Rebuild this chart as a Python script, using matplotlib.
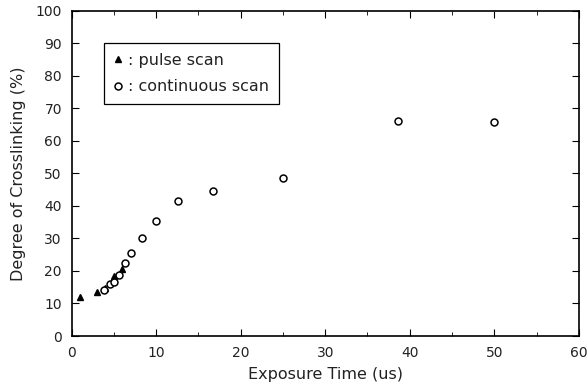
import matplotlib
matplotlib.use("Agg")
import matplotlib.pyplot as plt
from matplotlib.ticker import MultipleLocator

pulse_x = [1.0, 3.0, 4.0, 5.0, 6.0]
pulse_y = [12.1, 13.5, 14.7, 18.6, 20.6]
cont_x = [3.85, 4.5, 5.0, 5.6, 6.35, 7.05, 8.3, 10.0, 12.6, 16.7, 25.0, 38.6, 50.0]
cont_y = [14.2, 16.0, 16.5, 18.8, 22.4, 25.5, 30.0, 35.3, 41.6, 44.5, 48.6, 66.0, 65.8]

x_ticks = [0, 10, 20, 30, 40, 50, 60]
y_ticks = [0, 10, 20, 30, 40, 50, 60, 70, 80, 90, 100]

fig = plt.figure(figsize=(5.87, 3.88), dpi=100)
ax = fig.add_axes([0.122, 0.134, 0.864, 0.838])

ax.plot(pulse_x, pulse_y, linestyle="none", marker="^", color="black",
        markersize=4.5, label=": pulse scan")
ax.plot(cont_x, cont_y, linestyle="none", marker="o", markerfacecolor="white",
        markeredgecolor="black", markeredgewidth=1.1, markersize=5, label=": continuous scan")

ax.set_xlim(0, 60)
ax.set_ylim(0, 100)
ax.set_xticks(x_ticks)
ax.set_yticks(y_ticks)
ax.xaxis.set_minor_locator(MultipleLocator(5))
ax.tick_params(which="both", direction="in", top=True, right=True,
               labelsize=10, labelcolor="#222222", pad=7)
ax.tick_params(which="major", length=5)
ax.tick_params(which="minor", length=3)
for s in ax.spines.values():
    s.set_linewidth(1.2)

ax.set_xlabel("Exposure Time (us)", fontsize=11.5, color="#222222", labelpad=5)
ax.set_ylabel("Degree of Crosslinking (%)", fontsize=11.5, color="#222222", labelpad=7)

leg = ax.legend(loc="upper left", bbox_to_anchor=(0.064, 0.90), fancybox=False,
                edgecolor="black", framealpha=1, fontsize=11.5, handlelength=0.6,
                handletextpad=0.3, borderpad=0.6, labelspacing=0.7,
                borderaxespad=0)
leg.get_frame().set_linewidth(0.9)
for t in leg.get_texts():
    t.set_color("#222222")

fig.savefig("out.png", dpi=100)
